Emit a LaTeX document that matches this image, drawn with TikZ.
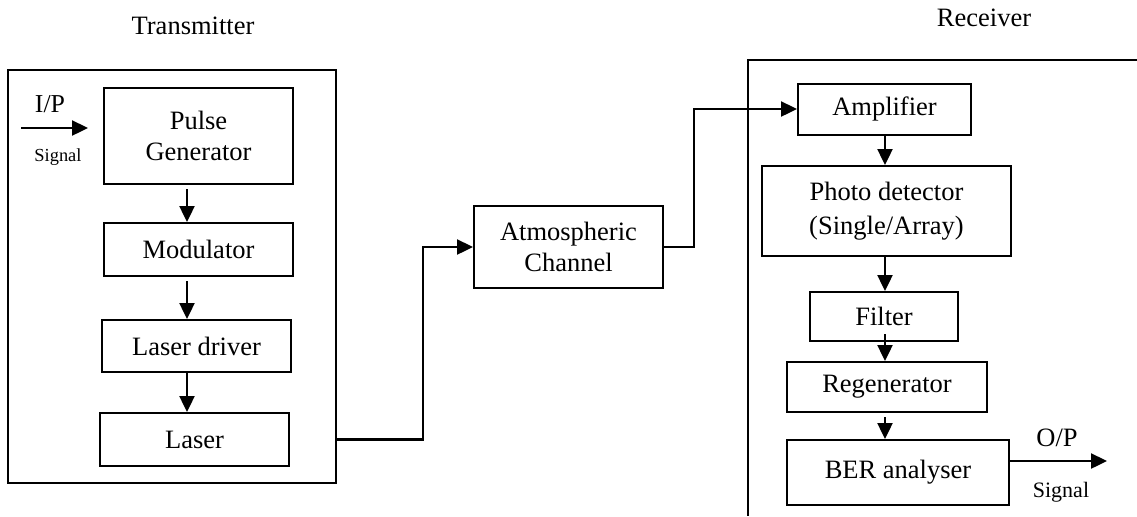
\documentclass[tikz,border=0pt]{standalone}
\usepackage{fontspec}
\setmainfont{Liberation Serif}
\usetikzlibrary{arrows.meta,calc}
\begin{document}
\begin{tikzpicture}[x=0.5pt,y=-0.5pt,
  blk/.style={draw,line width=1pt,inner sep=0pt,align=center,
    font=\fontsize{13.25}{15.5}\selectfont},
  frame/.style={draw,line width=1pt},
  arr/.style={line width=1.2pt,-{Triangle[length=8pt,width=7.5pt]}},
  wire/.style={line width=1pt},
  lbl/.style={inner sep=0pt,font=\fontsize{13.25}{15.5}\selectfont},
  small/.style={inner sep=0pt,font=\fontsize{9.2}{11}\selectfont},
  smallr/.style={inner sep=0pt,font=\fontsize{11}{13}\selectfont}]
\useasboundingbox (0,0) rectangle (1137,516);
% transmitter frame
\node[frame,inner sep=0pt,minimum width=164pt,minimum height=206.5pt] (tx) at (172,276.5) {};
\node[lbl] (txl) at (193,26) {Transmitter};
% receiver frame (open right/bottom)
\coordinate (rxa) at (1137,60);
\coordinate (rxb) at (748,60);
\coordinate (rxc) at (748,516);
\draw[wire] (rxa) -- (rxb) -- (rxc);
\node[lbl] (rxl) at (984,18) {Receiver};
% transmitter blocks
\node[blk,minimum width=94.5pt,minimum height=48pt] (pg) at (198.5,136) {Pulse\\Generator};
\node[blk,minimum width=94.5pt,minimum height=26.5pt] (mod) at (198.5,249.5) {Modulator};
\node[blk,minimum width=94.5pt,minimum height=26pt] (ld) at (196.5,346) {Laser driver};
\node[blk,minimum width=94.5pt,minimum height=26.5pt] (las) at (194.5,439.5) {Laser};
% channel
\node[blk,minimum width=94.5pt,minimum height=41pt] (atm) at (568.5,247) {Atmospheric\\Channel};
% receiver blocks
\node[blk,minimum width=86.5pt,minimum height=25.5pt] (amp) at (884.5,109) {Amplifier};
\node[blk,minimum width=124.5pt,minimum height=45pt,font=\fontsize{13.25}{17}\selectfont] (pd) at (886.5,211) {Photo detector\\(Single/Array)};
\node[blk,minimum width=74pt,minimum height=24.5pt] (fil) at (884,316.5) {Filter};
\node[blk,minimum width=100pt,minimum height=25pt] (reg) at (887,387) {Regenerator};
\node[blk,minimum width=111pt,minimum height=32.5pt] (ber) at (898,472.5) {BER analyser};
% helper coordinates
\coordinate (tx0) at (187,0);
\coordinate (rx0) at (885,0);
\coordinate (j1) at (423,0);
\coordinate (j2) at (694,0);
\coordinate (ips) at (21,128);
\coordinate (ope) at (1107,461);
% input
\draw[arr] (ips) -- ([xshift=-7.5pt]pg.west |- ips);
\node[lbl,font=\fontsize{12.9}{15}\selectfont] (ipl) at (50,104) {I/P};
\node[small] (ips1) at (58,157) {Signal};
% transmitter chain
\draw[arr] ([yshift=-2pt]pg.south -| tx0) -- (mod.north -| tx0);
\draw[arr] ([yshift=-2pt]mod.south -| tx0) -- (ld.north -| tx0);
\draw[arr] (ld.south -| tx0) -- (las.north -| tx0);
% laser to channel
\draw[arr] (las.east -| tx.east) -- (las.east -| j1) -- (atm.west -| j1) -- (atm.west);
% channel to amplifier
\draw[arr] (atm.east) -- (atm.east -| j2) -- (amp.west -| j2) -- (amp.west);
% receiver chain
\draw[arr] (amp.south -| rx0) -- (pd.north -| rx0);
\draw[arr] (pd.south -| rx0) -- (fil.north -| rx0);
\draw[arr] ([yshift=4pt]fil.south -| rx0) -- (reg.north -| rx0);
\draw[arr] ([yshift=-2pt]reg.south -| rx0) -- (ber.north -| rx0);
% output
\draw[arr] (ber.east |- ope) -- (ope);
\node[lbl] (opl) at (1057,438) {O/P};
\node[smallr] (ops) at (1061,492) {Signal};
\end{tikzpicture}
\end{document}
